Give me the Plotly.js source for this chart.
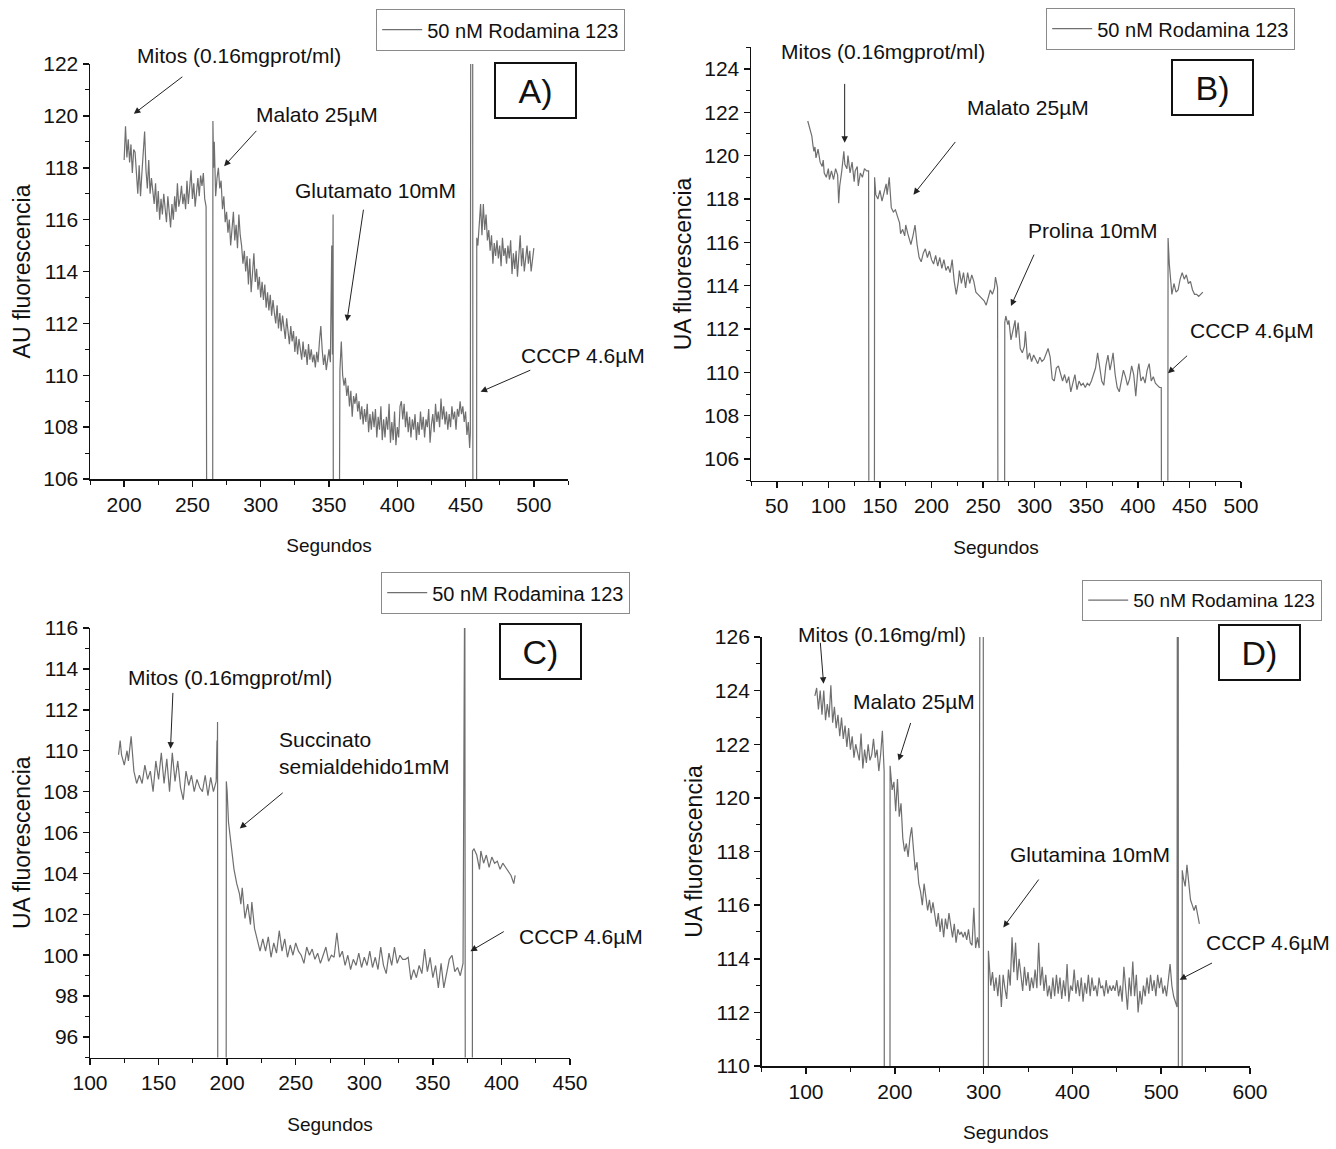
<!DOCTYPE html>
<html><head><meta charset="utf-8">
<script src="https://cdn.plot.ly/plotly-3.0.1.min.js"></script>
<style>html,body{margin:0;padding:0;background:#fff}</style>
</head><body><div id="chart" style="width:1336px;height:1149px"></div>
<script>
// ---------- DATA ----------
const seriesName = "50 nM Rodamina 123";
const xTitle = "Segundos";
const yTitleA = "AU fluorescencia";
const yTitleOther = "UA fluorescencia";
const panelLabels = ["A)", "B)", "C)", "D)"];

// Panel A
const aSec = [200,201,202,203,204,205,206,207,208,209,210,211,212,213,214,215,216,217,218,219,220,
222,223,224,225,226,227,228,229,230,231,232,233,234,235,236,237,238,239,240,241,242,243,244,245,246,247,248,249,250,251,252,253,254,255,256,257,258,259,260,
260.6,264.8,265,265.5,266,
267,268,269,270,271,272,273,274,275,276,277,278,279,280,281,282,283,284,285,286,287,288,289,290,291,292,293,294,295,296,297,298,299,300,
301,302,303,304,305,306,307,308,309,310,311,312,313,314,315,316,317,318,319,320,321,322,323,324,325,326,327,328,329,330,
331,332,333,334,335,336,337,338,339,340,341,342,343,344,345,346,347,348,349,350,351,
352,352.5,353,353.2,357.3,357.5,
358,359,360,361,362,363,364,365,366,367,368,369,370,371,372,373,374,375,376,377,378,379,380,
381,382,383,384,385,386,387,388,389,390,391,392,393,394,395,396,397,398,399,400,
401,402,403,404,405,406,407,408,409,410,411,412,413,414,415,416,417,418,419,420,
421,422,423,424,425,426,427,428,429,430,431,432,433,434,435,436,437,438,439,440,
441,442,443,444,445,446,447,448,449,450,451,452,453,
453.5,453.8,455.2,455.4,458,458.2,
459,460,461,462,463,464,465,466,467,468,469,470,471,472,473,474,475,476,477,478,479,480,
481,482,483,484,485,486,487,488,489,490,491,492,493,494,495,496,497,498,499,500];
const aFluo = [118.3,119.6,118.4,119.1,118.2,118.9,117.8,118.7,118.6,117.6,117.0,118.1,116.9,117.8,118.5,119.4,117.9,117.2,118.3,117.0,117.6,
116.6,117.4,116.3,117.1,116.0,116.8,116.2,117.0,116.4,115.9,116.9,116.2,115.7,116.6,116.0,116.9,116.3,117.4,116.5,116.8,117.3,116.6,117.0,116.4,117.5,116.6,117.2,117.9,116.8,117.4,116.5,117.1,117.6,116.9,117.7,117.3,117.8,116.8,116.5,
100,100,119.8,118.0,119.0,
116.9,117.6,118.0,117.2,117.5,116.4,116.9,115.9,116.3,115.5,116.0,115.0,115.6,116.3,115.2,115.8,114.9,116.2,115.4,115.0,114.3,114.8,114.0,114.6,113.5,114.5,113.2,114.2,114.7,113.6,114.1,113.3,113.8,113.0,
113.6,112.9,113.5,112.6,113.2,112.5,113.1,112.3,112.9,112.4,112.0,112.7,111.8,112.4,111.7,112.3,111.9,111.4,112.2,111.6,111.2,111.9,111.3,111.7,110.9,111.5,110.8,111.4,111.0,110.6,
111.3,110.7,111.0,110.4,111.2,110.6,111.0,110.5,110.8,110.3,110.9,110.5,111.3,111.9,111.0,110.4,110.8,110.2,110.6,111.0,110.5,
115.0,110.8,116.2,100,100,109.8,
110.2,111.3,110.0,109.6,109.9,109.2,109.6,108.8,109.4,108.4,109.2,108.9,109.3,108.6,109.0,108.3,108.8,108.1,108.7,108.2,108.9,107.8,108.5,
107.9,108.6,108.0,108.7,107.6,108.4,107.9,108.8,107.5,108.3,107.6,108.4,107.9,108.9,107.4,108.2,107.5,108.6,107.3,108.0,
107.6,108.8,109.0,108.3,108.9,108.0,108.6,107.8,108.4,107.6,108.3,107.9,108.5,107.5,108.2,107.7,108.6,107.9,108.4,107.6,
108.3,108.0,108.7,107.4,108.1,108.5,107.8,108.9,108.2,108.6,108.0,109.1,108.3,108.8,108.1,108.6,107.9,108.5,108.0,108.8,
108.3,108.6,107.9,108.7,108.4,109.0,108.5,108.8,108.2,108.6,107.7,108.2,107.2,
107.8,125,125,100,100,115.3,
115.0,115.8,116.6,115.4,116.6,115.6,116.2,115.2,115.6,114.8,115.4,114.3,115.1,114.6,115.2,114.5,115.0,114.2,115.3,114.6,114.9,114.3,
115.0,114.5,115.2,113.9,114.7,114.1,114.8,113.8,114.5,115.4,114.2,114.9,114.0,114.6,115.0,114.3,114.8,114.0,114.4,114.9];

// Panel B
const bSec = [80,82,84,85,86,87,88,90,92,94,95,96,98,100,101,103,105,107,109,110,111,113,115,116,118,119,121,123,125,126,128,129,131,133,135,137,139,
139.3,144.6,144.8,146,148,150,152,154,156,157,159,160,161,163,165,167,169,170,172,174,175,177,179,180,182,184,186,188,190,192,194,196,198,200,
202,204,206,208,210,212,214,216,218,220,222,224,226,227,229,231,233,235,237,239,241,243,245,247,249,251,253,255,257,259,261,262,263,264,
264.5,270.8,271,272,274,275,277,279,281,282,284,286,288,290,291,293,295,297,299,301,303,305,307,309,311,313,315,317,319,321,323,325,327,329,331,333,335,337,339,
341,343,345,347,349,351,353,355,357,359,361,363,365,367,369,371,373,375,376,378,380,382,384,386,388,390,392,394,396,398,400,401,403,405,407,409,411,413,415,417,419,421,422.7,
423,429,429.3,430.5,432,433,435,437,439,441,443,445,447,449,451,453,455,457,459,461,463];
const bFluo = [121.6,121.2,120.9,120.5,120.2,120.4,119.9,120.3,119.7,119.5,119.8,119.2,119.0,119.4,118.9,119.3,118.9,119.4,119.1,117.8,118.6,119.3,120.2,119.6,119.4,120.0,119.2,119.7,118.8,119.3,119.5,118.6,119.2,119.0,119.4,119.3,119.3,
100,100,119.0,118.2,118.0,118.4,117.9,118.3,118.7,118.2,119.0,118.3,117.6,117.4,117.5,117.2,116.9,116.4,116.6,116.3,116.8,116.4,116.0,115.9,116.3,116.8,115.9,115.3,115.1,115.5,115.7,115.3,115.6,115.2,
115.0,115.4,114.9,115.3,114.8,115.2,114.7,114.9,114.6,115.2,114.2,113.6,114.2,114.7,114.1,114.6,113.9,114.6,114.1,114.5,114.2,113.7,113.6,113.5,113.4,113.3,113.1,113.4,113.8,113.6,113.9,114.4,114.2,113.9,
100,100,112.3,112.6,112.2,112.4,111.5,112.0,112.4,111.6,112.3,111.1,110.9,111.2,111.9,110.6,110.9,110.5,110.8,110.6,110.4,110.7,110.5,110.6,110.9,111.1,110.7,109.7,109.6,110.2,110.3,110.0,109.6,109.9,109.5,109.8,109.1,109.5,109.9,
109.2,109.6,109.4,109.5,109.3,109.5,109.4,109.6,109.9,110.2,110.9,110.2,109.6,109.4,110.3,110.8,110.1,110.6,110.9,109.9,109.3,109.1,109.6,110.1,109.8,109.4,109.7,110.3,109.9,108.9,110.1,110.4,109.6,109.8,109.5,110.1,110.4,109.6,109.8,109.5,109.4,109.3,109.3,
100,100,116.2,115.0,114.0,113.6,114.1,113.7,113.8,114.3,114.6,114.3,114.5,114.1,114.2,113.8,113.6,113.6,113.5,113.6,113.7];

// Panel C
const cSec = [120.8,122,123,125,127,128,130,132,134,136,138,140,142,144,146,148,150,152,154,156,158,160,162,164,166,168,170,172,174,176,178,180,182,184,186,188,190,192,
192.6,192.8,193,193.3,199.2,199.4,200,201,203,205,207,209,210,211,213,215,217,218,220,
222,224,226,228,230,232,234,236,238,240,242,244,246,248,250,252,254,256,258,260,262,264,266,268,270,272,274,276,278,280,
282,284,286,288,290,292,294,296,298,300,302,304,306,308,310,312,314,316,318,320,322,324,326,328,330,332,334,336,338,340,
342,344,346,348,350,352,354,356,358,360,362,364,366,368,370,372,
373.3,373.8,378.7,378.9,380,382,384,385,387,389,391,393,395,397,399,401,403,405,407,409,410];
const cFluo = [109.8,110.5,109.8,109.3,110.0,109.5,110.7,109.0,108.4,108.8,108.4,109.3,108.6,109.0,108.0,109.5,108.6,109.9,108.4,109.6,108.0,109.9,108.5,109.5,108.2,107.6,109.0,108.3,108.8,108.0,108.6,108.2,108.0,108.8,107.8,108.7,108.0,108.5,
110.5,108.6,111.4,80,80,108.5,108.0,106.5,105.3,104.2,103.5,103.0,102.5,103.3,101.8,102.5,101.5,102.6,101.3,
100.8,100.2,100.8,100.2,100.9,99.9,100.6,100.1,101.2,100.2,100.8,99.9,100.5,100.0,100.6,100.2,100.0,99.6,100.4,100.0,100.3,99.8,100.1,99.6,100.0,100.4,99.7,100.0,99.9,101.1,
99.9,100.2,99.5,100.0,99.3,99.8,99.5,100.1,99.4,99.9,99.5,100.2,99.4,99.9,99.3,100.4,99.5,99.1,100.1,99.5,100.4,99.6,100.0,99.8,99.8,99.9,98.8,99.3,98.9,99.5,
99.1,100.3,99.2,99.9,98.9,99.5,98.4,99.6,98.4,99.1,99.8,100.0,99.2,99.4,99.0,99.6,
120,80,80,105.1,105.2,104.9,104.2,105.1,104.5,104.9,104.3,104.8,104.5,104.6,104.2,104.5,104.3,104.1,103.9,103.5,103.9];

// Panel D
const dSec = [110,112,114,116,118,120,122,124,126,128,130,132,134,136,138,140,142,144,146,148,150,152,154,156,158,160,162,164,166,168,170,172,174,176,178,180,182,184,186,188,
188.3,194.5,194.7,197,199,201,203,205,207,209,211,213,215,217,219,221,223,225,227,229,231,233,235,237,239,241,243,245,247,249,251,253,255,257,259,261,263,265,267,269,271,273,275,277,279,281,283,285,287,289,291,293,295,
296,299.6,300,305.2,305.4,
308,310,312,314,316,318,320,322,324,326,328,330,332,334,336,338,340,342,344,346,348,350,352,354,356,358,360,362,364,366,368,370,372,374,376,378,380,
382,384,386,388,390,392,394,396,398,400,402,404,406,408,410,412,414,416,418,420,422,424,426,428,430,432,434,436,438,440,442,444,446,448,450,
452,454,456,458,460,462,464,466,468,470,472,474,476,478,480,482,484,486,488,490,492,494,496,498,500,502,504,506,508,510,512,514,517.8,
518.2,519.2,519.4,523.5,523.7,525,527,529,531,533,535,537,539,541,543];
const dFluo = [123.8,124.1,123.3,124.0,123.1,124.0,122.9,123.5,123.0,124.2,122.8,123.4,122.6,123.1,122.3,123.0,122.2,122.7,121.9,122.6,121.8,122.3,121.5,122.0,121.7,121.4,122.4,121.1,121.8,121.3,122.0,121.4,121.6,122.2,121.5,121.8,121.0,121.6,122.5,121.0,
100,100,121.2,120.3,120.6,119.5,120.7,119.3,119.8,118.5,118.0,118.3,117.8,118.5,118.9,118.2,117.3,117.6,116.8,116.5,116.0,116.8,116.3,115.8,116.2,115.7,116.1,115.6,115.2,115.7,115.0,115.5,114.8,115.5,115.1,115.7,115.2,114.8,115.3,114.6,115.1,114.9,115.0,114.8,115.0,114.7,115.1,114.6,114.5,115.9,114.4,114.8,114.4,
130,130,100,100,114.3,
113.0,113.5,112.8,113.3,112.6,113.4,112.2,113.4,112.9,112.5,113.6,113.0,114.8,113.5,114.6,113.2,114.0,113.4,112.8,113.7,113.0,113.5,112.8,113.3,112.9,113.6,112.9,114.6,113.0,113.7,112.8,113.4,112.6,113.0,112.5,113.3,112.6,
113.4,112.7,113.3,112.5,113.2,112.6,113.8,112.4,113.0,112.8,113.6,112.7,113.2,112.6,113.3,112.4,113.1,112.7,113.4,112.6,113.3,112.8,113.0,112.6,113.3,112.9,113.0,112.6,113.2,112.7,113.0,112.8,113.0,112.8,113.2,
112.6,113.0,112.4,113.7,112.9,112.1,113.3,112.6,113.9,112.6,113.4,112.0,112.8,112.3,113.0,112.6,113.3,112.7,113.4,112.8,113.2,112.6,113.4,112.9,113.3,112.7,113.0,112.6,113.2,113.8,113.0,112.6,112.2,
130,130,100,100,117.3,117.0,116.7,117.5,116.9,116.2,116.0,115.8,116.0,115.6,115.3];

// Annotation texts
const labelsA = ["Mitos (0.16mgprot/ml)", "Malato 25µM", "Glutamato 10mM", "CCCP 4.6µM"];
const labelsB = ["Mitos (0.16mgprot/ml)", "Malato 25µM", "Prolina 10mM", "CCCP 4.6µM"];
const labelsC = ["Mitos (0.16mgprot/ml)", "Succinato<br>semialdehido1mM", "CCCP 4.6µM"];
const labelsD = ["Mitos (0.16mg/ml)", "Malato 25µM", "Glutamina 10mM", "CCCP 4.6µM"];

// ---------- LAYOUT ----------
const W = 1336, H = 1149;
const FONT = "'Liberation Sans', Arial, sans-serif";
const LINE = '#6f6f6f';

const panels = {
  A: {px:[90,568], py:[64,479], xr:[175,525], yr:[106,122], dx:50, mx:25, dy:2},
  B: {px:[751,1241], py:[47.3,480.7], xr:[25,500], yr:[105,125], dx:50, mx:25, dy:2},
  C: {px:[90,570], py:[628,1057.5], xr:[100,450], yr:[95,116], dx:50, mx:25, dy:2},
  D: {px:[761.6,1250], py:[637,1066], xr:[50,600], yr:[110,126], dx:100, mx:50, dy:2}
};
function d2p(p, x, y) {
  const c = panels[p];
  const px = c.px[0] + (x - c.xr[0]) / (c.xr[1] - c.xr[0]) * (c.px[1] - c.px[0]);
  const py = c.py[1] - (y - c.yr[0]) / (c.yr[1] - c.yr[0]) * (c.py[1] - c.py[0]);
  return {x: px / W, y: 1 - py / H};
}

const order = ['A','B','C','D'];
const data = [[aSec,aFluo],[bSec,bFluo],[cSec,cFluo],[dSec,dFluo]].map((s, i) => ({
  x: s[0], y: s[1], type: 'scatter', mode: 'lines', name: seriesName,
  line: {color: LINE, width: 1.2},
  xaxis: i === 0 ? 'x' : 'x' + (i + 1), yaxis: i === 0 ? 'y' : 'y' + (i + 1),
  legend: i === 0 ? 'legend' : 'legend' + (i + 1), showlegend: true, hoverinfo: 'x+y'
}));

const layout = {
  width: W, height: H, margin: {l:0, r:0, t:0, b:0},
  paper_bgcolor: '#fff', plot_bgcolor: '#fff',
  font: {family: FONT, color: '#111', size: 21},
  annotations: [], shapes: []
};

order.forEach((p, i) => {
  const c = panels[p];
  const sx = i === 0 ? '' : String(i + 1);
  layout['xaxis' + sx] = {
    domain: [c.px[0] / W, c.px[1] / W], range: c.xr, anchor: 'y' + sx,
    showline: true, linecolor: '#111', linewidth: 1.5, mirror: false,
    ticks: 'outside', ticklen: 6, tickwidth: 1.5, tickcolor: '#111',
    dtick: c.dx, tick0: 0, showgrid: false, zeroline: false,
    minor: {dtick: c.mx, tick0: 0, ticks: 'outside', ticklen: 4, tickwidth: 1, tickcolor: '#111', showgrid: false},
    tickfont: {family: FONT, size: 21, color: '#111'},
    title: {text: xTitle, font: {family: FONT, size: 19, color: '#111'}, standoff: 24}
  };
  layout['yaxis' + sx] = {
    domain: [1 - c.py[1] / H, 1 - c.py[0] / H], range: c.yr, anchor: 'x' + sx,
    showline: true, linecolor: '#111', linewidth: 1.5, mirror: false,
    ticks: 'outside', ticklen: 6, tickwidth: 1.5, tickcolor: '#111',
    dtick: c.dy, tick0: 0, showgrid: false, zeroline: false,
    minor: {dtick: 1, tick0: 0, ticks: 'outside', ticklen: 4, tickwidth: 1, tickcolor: '#111', showgrid: false},
    tickfont: {family: FONT, size: 21, color: '#111'},
    title: {text: p === 'A' ? yTitleA : yTitleOther, font: {family: FONT, size: 23, color: '#111'}, standoff: 6}
  };
});

// legends (paper positions in px)
const legendPos = [[376, 9], [1046, 8], [381, 572], [1082, 580]];
const legendFont = [20, 20, 20, 19];
legendPos.forEach((lp, i) => {
  const key = i === 0 ? 'legend' : 'legend' + (i + 1);
  layout[key] = {
    x: lp[0] / W, y: 1 - lp[1] / H, xanchor: 'left', yanchor: 'top',
    bgcolor: '#fff', bordercolor: '#8a8a8a', borderwidth: 1.2,
    font: {family: FONT, size: legendFont[i], color: '#111'},
    itemwidth: 40, tracegroupgap: 0
  };
});

// panel label boxes (px centers)
const boxPos = [[535.5, 90.5], [1212.5, 87.5], [540, 651], [1259, 652.5]];
boxPos.forEach((b, i) => {
  layout.annotations.push({
    xref: 'paper', yref: 'paper', x: b[0] / W, y: 1 - b[1] / H, xanchor: 'center', yanchor: 'middle',
    text: panelLabels[i], showarrow: false, width: 79, height: 53, borderpad: 0,
    bordercolor: '#111', borderwidth: 2, bgcolor: '#fff',
    font: {family: FONT, size: 34, color: '#111'}
  });
});

// text labels (data-estimated positions -> paper)
function addText(p, txt, x, y, opts) {
  const q = d2p(p, x, y);
  layout.annotations.push(Object.assign({
    xref: 'paper', yref: 'paper', x: q.x, y: q.y, xanchor: 'center', yanchor: 'middle',
    text: txt, showarrow: false, font: {family: FONT, size: 21, color: '#111'}
  }, opts || {}));
}
function addArrow(p, hx, hy, tx, ty) {
  const i = order.indexOf(p);
  const sx = i === 0 ? '' : String(i + 1);
  layout.annotations.push({
    xref: 'x' + sx, yref: 'y' + sx, x: hx, y: hy, axref: 'x' + sx, ayref: 'y' + sx, ax: tx, ay: ty,
    text: '', showarrow: true, arrowhead: 2, arrowsize: 1.3, arrowwidth: 1, arrowcolor: '#222', standoff: 0
  });
}

addText('A', labelsA[0], 284, 122.32);
addArrow('A', 207.1, 120.08, 243.7, 121.55);
addText('A', labelsA[1], 340.9, 120.04);
addArrow('A', 273.2, 118.06, 297.8, 119.48);
addText('A', labelsA[2], 384, 117.13);
addArrow('A', 363.1, 112.08, 375.4, 116.44);
addText('A', labelsA[3], 536, 110.77);
addArrow('A', 461, 109.36, 498.5, 110.22);

addText('B', labelsB[0], 153.3, 124.8);
addArrow('B', 115.8, 120.6, 115.8, 123.38);
addText('B', labelsB[1], 293.8, 122.2);
addArrow('B', 182.5, 118.2, 224.2, 120.7);
addText('B', labelsB[2], 356.3, 116.53);
addArrow('B', 277, 113.06, 300, 115.5);
addText('B', labelsB[3], 510.4, 111.94);
addArrow('B', 429.2, 109.96, 449.2, 110.83);

addText('C', labelsC[0], 202.4, 113.6);
addArrow('C', 158.7, 110.1, 160.5, 112.9);
addText('C', labelsC[1], 236, 109.9, {xanchor: 'left', align: 'left'});
addArrow('C', 209.2, 106.2, 241.6, 108.0);
addText('C', labelsC[2], 457.8, 100.9);
addArrow('C', 377.4, 100.2, 402.8, 101.2);

addText('D', labelsD[0], 186, 126.1);
addArrow('D', 119.8, 124.26, 116, 125.84);
addText('D', labelsD[1], 222, 123.58);
addArrow('D', 204.3, 121.39, 218.4, 122.85);
addText('D', labelsD[2], 420.3, 117.87);
addArrow('D', 322.2, 115.17, 363.3, 117.01);
addText('D', labelsD[3], 620.8, 114.62);
addArrow('D', 520.8, 113.22, 558.9, 113.87);

Plotly.newPlot('chart', data, layout, {displayModeBar: false, staticPlot: true});
</script>
</body></html>
